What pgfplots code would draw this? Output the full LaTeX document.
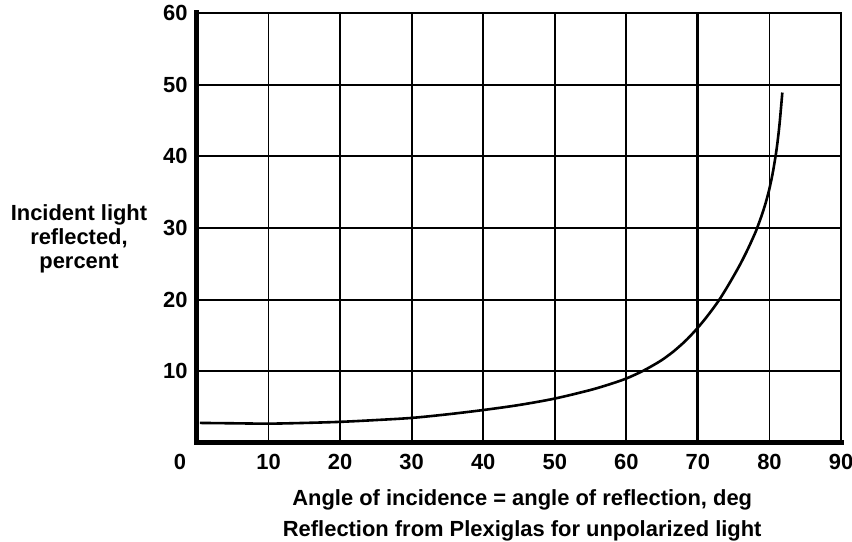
\documentclass[border=0pt]{standalone}
\usepackage{fontspec}
\setmainfont{Liberation Sans}
\usepackage{pgfplots}
\pgfplotsset{compat=1.18}
\begin{document}
\begin{tikzpicture}
\begin{axis}[
  scale only axis,
  width=644bp, height=430bp,
  xmin=0, xmax=90, ymin=0, ymax=60,
  xtick={10,20,...,90}, ytick={10,20,...,60},
  extra x ticks={0}, extra x tick style={grid=none, xticklabel style={xshift=-17bp}},
  major tick length=0pt,
  grid=major,
  grid style={black, line width=1.8bp},
  major grid style={black, line width=1.8bp},
  axis line style={black, line width=1.8bp},
  /pgf/number format/assume math mode=true,
  tick label style={font=\fontsize{22}{26}\selectfont\bfseries},
  xticklabel style={yshift=-8bp},
  yticklabel style={xshift=-6bp},
  clip=false,
]
\addplot[black, line width=2.6bp, smooth, tension=0.5] coordinates {
 (0.4,2.8) (5,2.75) (10,2.7) (15,2.8) (20,2.95) (25,3.2) (30,3.5) (35,4.0)
 (40,4.6) (45,5.3) (50,6.2) (55,7.4) (58,8.3) (60,9.0) (62,9.9) (63.5,10.7)
 (65,11.6) (66.5,12.7) (68,14.0) (69,15.0) (70,16.1) (71,17.3) (72,18.6)
 (73,20.0) (74,21.6) (75,23.3) (76,25.1) (77,27.1) (78,29.3) (78.5,30.6)
 (79,32.0) (79.5,33.6) (80,35.5) (80.5,37.9) (81,41.0) (81.4,44.4) (81.8,48.9)
};
\draw[black, line width=5bp, line cap=rect] (rel axis cs:0,0) -- (rel axis cs:0,1);
\draw[black, line width=5bp, line cap=rect] (rel axis cs:0,0) -- (rel axis cs:1,0);
\draw[black, line width=2.8bp] (axis cs:70,0) -- (axis cs:70,60);
\node[font=\fontsize{22}{24}\selectfont\bfseries, align=center] at ([xshift=-118bp,yshift=-2bp]rel axis cs:0,0.479) {Incident light\\reflected,\\percent};
\node[font=\fontsize{22}{26}\selectfont\bfseries] at ([yshift=-57bp]rel axis cs:0.505,0) {Angle of incidence = angle of reflection, deg};
\node[font=\fontsize{22}{26}\selectfont\bfseries] at ([yshift=-88bp]rel axis cs:0.505,0) {Reflection from Plexiglas for unpolarized light};
\coordinate (ll) at (rel axis cs:0,0);
\coordinate (ur) at (rel axis cs:1,1);
\end{axis}
\pgfresetboundingbox
\path ([shift={(-197bp,-99bp)}]ll) rectangle ([shift={(11bp,13bp)}]ur);
\end{tikzpicture}
\end{document}
